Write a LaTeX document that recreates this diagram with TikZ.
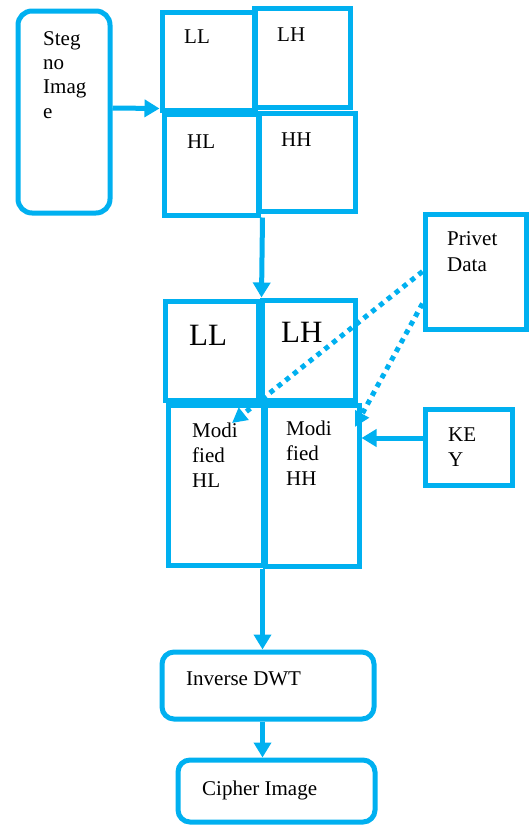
\documentclass[tikz,border=0pt]{standalone}
\usepackage{fontspec}
\setmainfont{Liberation Serif}
\usetikzlibrary{arrows.meta}
\definecolor{cy}{RGB}{0,176,240}
\begin{document}
\begin{tikzpicture}[x=1pt,y=-1pt,
  box/.style={draw=cy,line width=5pt,inner sep=0pt,minimum width=#1},
  rbox/.style={box=#1,rounded corners=14pt},
  lbl/.style={inner sep=0pt,anchor=base west,align=left,font=\fontsize{21}{25}\selectfont},
  big/.style={lbl,font=\fontsize{31}{36}\selectfont},
  arr/.style={draw=cy,line width=5pt,-{Triangle[length=15pt,width=17pt]}},
  dot/.style={draw=cy,line width=5pt,dash pattern=on 5pt off 5pt,-{Triangle[length=15pt,width=15pt]}}]
\useasboundingbox (0,0) rectangle (529,825);
% boxes
\node[rbox=92pt,minimum height=202pt] (steg) at (64,112) {};
\node[box=93pt,minimum height=98pt] (ll1) at (208.5,61) {};
\node[box=96pt,minimum height=99pt] (lh1) at (302,57.5) {};
\node[box=94pt,minimum height=101pt] (hl1) at (211,164.5) {};
\node[box=96pt,minimum height=98pt] (hh1) at (307,162) {};
\node[box=93pt,minimum height=99pt] (ll2) at (211.5,350.5) {};
\node[box=93pt,minimum height=100pt] (lh2) at (308.5,350) {};
\node[box=95pt,minimum height=160pt] (mhl) at (215.5,485) {};
\node[box=94pt,minimum height=161pt] (mhh) at (312,485.5) {};
\node[box=101pt,minimum height=115pt] (priv) at (475.5,271.5) {};
\node[box=87pt,minimum height=76pt] (key) at (468.5,447) {};
\node[rbox=212pt,minimum height=67pt,rounded corners=12pt] (inv) at (268,685.5) {};
\node[rbox=197pt,minimum height=62pt,rounded corners=12pt] (ciph) at (276.5,791) {};
% labels (base anchor = baseline of last line)
\node[lbl,font=\fontsize{21}{24.3}\selectfont] (tsteg) at (43,118) {Steg\\no\\Imag\\e};
\node[lbl] (tll1) at (184,43) {LL};
\node[lbl] (tlh1) at (277,41) {LH};
\node[lbl] (thl1) at (187,148) {HL};
\node[lbl] (thh1) at (281,146) {HH};
\node[big] (tll2) at (189,345) {LL};
\node[big] (tlh2) at (281,342) {LH};
\node[lbl] (tmhl) at (192,487) {Modi\\fied\\HL};
\node[lbl] (tmhh) at (286,485) {Modi\\fied\\HH};
\node[lbl,font=\fontsize{21}{26}\selectfont] (tpriv) at (447,271) {Privet\\Data};
\node[lbl] (tkey) at (448,466) {KE\\Y};
\node[lbl] (tinv) at (186,685) {Inverse DWT};
\node[lbl] (tciph) at (202,795) {Cipher Image};
% connectors
\coordinate (t1) at (232,423);
\coordinate (t2) at (355,427);
\draw[arr] ([yshift=4pt]steg.east) -- ([yshift=4pt]ll1.south west);
\draw[arr] ([xshift=2pt]hl1.south east) -- ([xshift=2pt]lh2.north west);
\draw[arr] (mhh.south west) -- (inv.north -| mhh.south west);
\draw[arr] (inv.south -| mhh.south west) -- (ciph.north -| mhh.south west);
\draw[arr] ([yshift=9pt]key.west) -- ([yshift=9pt]key.west -| mhh.east);
\draw[dot] (priv.west) -- (t1);
\draw[dot] ([yshift=-32pt]priv.west) -- (t2);
\end{tikzpicture}
\end{document}
